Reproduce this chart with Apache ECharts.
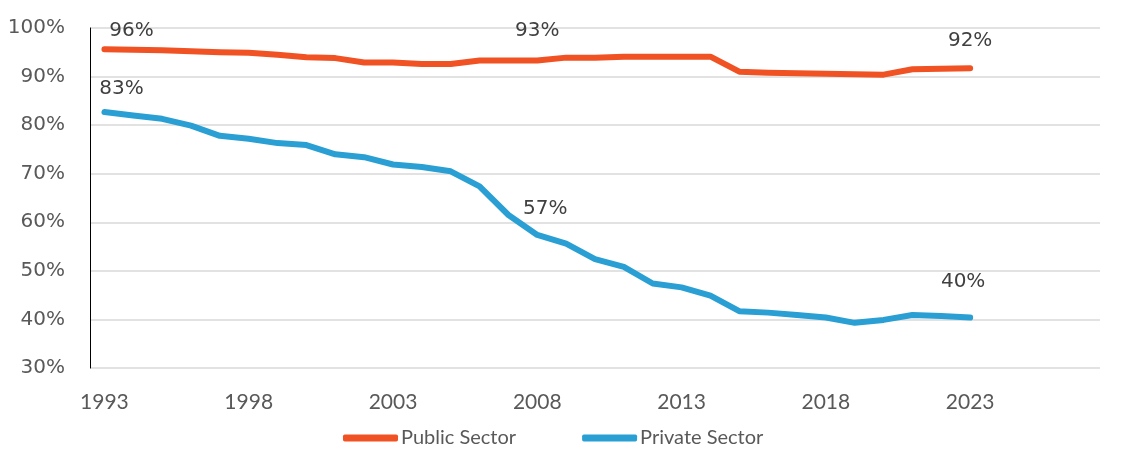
<!DOCTYPE html>
<html>
<head>
<meta charset="utf-8">
<script src="https://cdn.jsdelivr.net/npm/echarts@6/dist/echarts.min.js"></script>
<style>
html,body{margin:0;padding:0;background:#fff;}
#chart{width:1137px;height:469px;}
</style>
</head>
<body>
<div id="chart"></div>
<script>
// Categories (axis runs to 2027, data ends 2023)
const years = [];
for (let y = 1993; y <= 2027; y++) years.push(String(y));

const publicSector = [95.6, 95.5, 95.4, 95.2, 95.0, 94.9, 94.5, 94.0, 93.8, 92.9,
  92.9, 92.6, 92.6, 93.3, 93.3, 93.3, 93.9, 93.9, 94.1, 94.1,
  94.1, 94.1, 91.0, 90.8, 90.7, 90.6, 90.5, 90.4, 91.5, 91.6, 91.7];

const privateSector = [82.7, 82.0, 81.3, 79.9, 77.8, 77.2, 76.3, 75.9, 74.0, 73.4,
  71.9, 71.4, 70.5, 67.4, 61.5, 57.4, 55.6, 52.4, 50.8, 47.4,
  46.6, 44.9, 41.7, 41.4, 40.9, 40.4, 39.3, 39.9, 40.9, 40.7, 40.4];

const yTicks = [30, 40, 50, 60, 70, 80, 90, 100];

// label placement (style, not data)
const publicLabels = {0: [27, -4], 15: [0, -15], 30: [0, -13]};
const privateLabels = {0: [17, -8], 15: [8, -11], 30: [-7, -21]};

function buildData(values, labels) {
  return values.map((v, i) => {
    if (labels[i]) {
      return {value: v, label: {show: true, position: 'top', offset: labels[i],
        formatter: p => Math.round(p.value) + '%',
        fontFamily: 'DejaVu Sans', fontSize: 20, color: '#404040'}};
    }
    return v;
  });
}

const chart = echarts.init(document.getElementById('chart'), null, {renderer: 'canvas'});
chart.setOption({
  animation: false,
  grid: {left: 90, right: 37, top: 28, bottom: 101, containLabel: false},
  legend: {
    data: ['Public Sector', 'Private Sector'],
    left: 338, top: 423,
    icon: 'roundRect', itemWidth: 55, itemHeight: 7, itemGap: 66,
    textStyle: {fontFamily: 'Lato', fontSize: 20, color: '#595959', padding: [0, 0, 0, -2]}
  },
  xAxis: {
    type: 'category', data: years, boundaryGap: true,
    axisLine: {show: false}, axisTick: {show: false},
    axisLabel: {interval: 4, margin: 24, fontFamily: 'Lato', fontSize: 21, color: '#595959'},
    splitLine: {show: false}
  },
  yAxis: {
    type: 'value', min: yTicks[0], max: yTicks[yTicks.length - 1], interval: 10,
    axisLine: {show: true, lineStyle: {color: '#000', width: 1}},
    axisTick: {show: false},
    axisLabel: {formatter: '{value}%', margin: 25, fontFamily: 'DejaVu Sans', fontSize: 20, color: '#595959'},
    splitLine: {show: true, lineStyle: {color: '#D9D9D9', width: 1.5}}
  },
  series: [
    {name: 'Public Sector', type: 'line', data: buildData(publicSector, publicLabels),
      symbol: 'circle', symbolSize: 0, showSymbol: true, smooth: false,
      lineStyle: {color: '#F05223', width: 6, cap: 'round', join: 'round'},
      itemStyle: {color: '#F05223'}},
    {name: 'Private Sector', type: 'line', data: buildData(privateSector, privateLabels),
      symbol: 'circle', symbolSize: 0, showSymbol: true, smooth: false,
      lineStyle: {color: '#2A9FD4', width: 6, cap: 'round', join: 'round'},
      itemStyle: {color: '#2A9FD4'}}
  ]
});
</script>
</body>
</html>
